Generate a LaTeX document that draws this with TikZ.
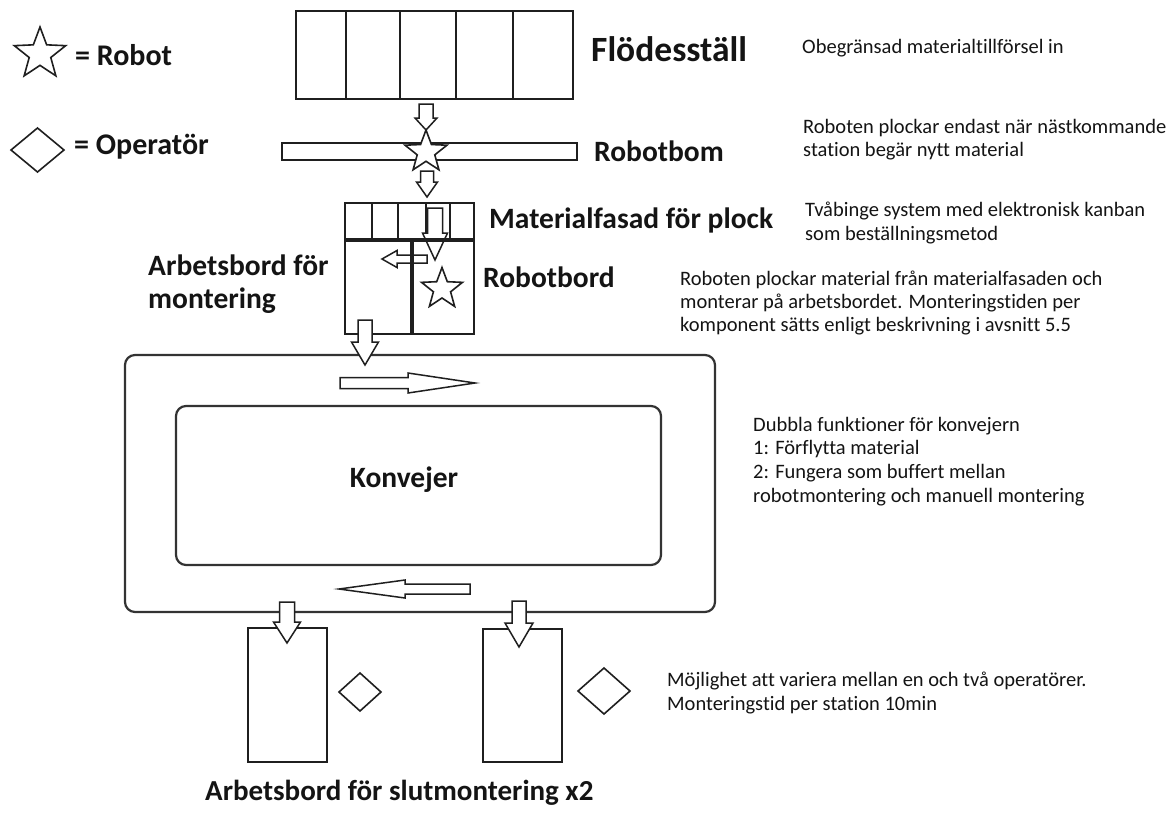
\documentclass[tikz,border=0pt]{standalone}
\usepackage{fontspec}
\setmainfont{Carlito}[Ligatures=CommonOff]
\newcommand\dnarrow[6]{% cx, top, headbase, tip, shaft width, head width
  \draw[blk] ({#1-#5/2},#2) -- ({#1+#5/2},#2) -- ({#1+#5/2},#3) -- ({#1+#6/2},#3) -- (#1,#4) -- ({#1-#6/2},#3) -- ({#1-#5/2},#3) -- cycle;}
\newcommand\hzarrow[6]{% cy, tail, headbase, tip, shaft height, head height
  \draw[blk] (#2,{#1-#5/2}) -- (#3,{#1-#5/2}) -- (#3,{#1-#6/2}) -- (#4,#1) -- (#3,{#1+#6/2}) -- (#3,{#1+#5/2}) -- (#2,{#1+#5/2}) -- cycle;}
\newcommand\robotstar[3]{% cx, cy, R
  \draw[sym, shift={(#1,#2)}] (-90:#3) -- (-54:{0.42*#3}) -- (-18:#3) -- (18:{0.42*#3}) -- (54:#3) -- (90:{0.42*#3}) -- (126:#3) -- (162:{0.42*#3}) -- (198:#3) -- (234:{0.42*#3}) -- cycle;}
\newcommand\opdiamond[4]{% cx, cy, half width, half height
  \draw[sym] ({#1-#3},#2) -- (#1,{#2-#4}) -- ({#1+#3},#2) -- (#1,{#2+#4}) -- cycle;}
\begin{document}
\begin{tikzpicture}[x=1pt,y=-1pt,
  ln/.style={draw=black!88, line width=1.8pt},
  thick line/.style={draw=black!88, line width=3.2pt},
  conv/.style={draw=black!80, line width=2.2pt, rounded corners=10pt},
  blk/.style={draw=black!88, line width=1.5pt, fill=white, line join=miter},
  sym/.style={draw=black!88, line width=1.6pt, fill=white, line join=miter},
  lbl/.style={font=\fontsize{29.5}{34}\selectfont\bfseries, anchor=base west, inner sep=0pt, text=black!92},
  note/.style={font=\fontsize{20.5}{24}\selectfont, anchor=base west, inner sep=0pt, text=black!92},
]
\useasboundingbox (0,0) rectangle (1170,812);
\fill[white] (0,0) rectangle (1170,812);

% legend
\robotstar{40}{54}{27}
\node[lbl, font=\fontsize{30}{34}\selectfont\bfseries] (legrobot) at (75,65) {= Robot};
\opdiamond{37.5}{150}{26.5}{22}
\node[lbl, font=\fontsize{30}{34}\selectfont\bfseries] (legop) at (74,154) {= Operatör};

% Flödesställ rack
\draw[ln] (296,11) rectangle (573,99);
\foreach \x in {346,400,456,513} \draw[ln] (\x,11) -- (\x,99);
\node[lbl, font=\fontsize{35.5}{40}\selectfont\bfseries] (flode) at (591,61) {Flödesställ};

% Robotbom
\draw[ln] (282,143) rectangle (577,160);
\node[lbl] (bom) at (594,161) {Robotbom};

% Materialfasad
\draw[ln] (345,203) rectangle (474,240);
\foreach \x in {372,398,426,450} \draw[ln] (\x,203) -- (\x,240);
\draw[ln] (345,240) rectangle (474,334);
\node[lbl] (fasad) at (489,228) {Materialfasad för plock};
\node[lbl] (arb1) at (148,275) {Arbetsbord för};
\node[lbl] (arb2) at (148,308) {montering};
\node[lbl] (robbord) at (483,287) {Robotbord};

% arrows top
\dnarrow{426}{104}{118}{130}{14}{22}
\robotstar{426}{152}{22}
\dnarrow{427}{171}{182}{197}{13}{21}
\dnarrow{435}{208}{233}{260}{15}{25}
\hzarrow{259}{427}{397}{382}{8}{17}
\draw[thick line] (345,240) -- (474,240);
\draw[thick line] (412,240) -- (412,334);
\robotstar{442}{289}{21.5}

% Konvejer
\draw[conv] (125,355) rectangle (715,612);
\draw[conv] (176,406) rectangle (661,565);
\node[lbl, anchor=base] (konv) at (404,487) {Konvejer};
\dnarrow{365}{320}{342}{365}{14}{27}
\hzarrow{383}{340}{408}{475}{11}{20}
\hzarrow{589}{470}{405}{339}{10}{18}

% final tables
\draw[ln] (248,628) rectangle (327,762);
\draw[ln] (483,629) rectangle (562,762);
\dnarrow{287}{602}{622}{643}{15}{27}
\dnarrow{519}{601}{623}{647}{14}{28}
\opdiamond{360}{692}{21}{19}
\opdiamond{604}{691}{26}{23}
\node[lbl, font=\fontsize{29}{34}\selectfont\bfseries] (slut) at (205,800) {Arbetsbord för slutmontering x2};

% notes
\node[note] (n1) at (802,53) {Obegränsad materialtillförsel in};
\node[note] (n2a) at (803,133) {Roboten plockar endast när nästkommande};
\node[note] (n2b) at (803,156) {station begär nytt material};
\node[note] (n3a) at (805,216) {Tvåbinge system med elektronisk kanban};
\node[note] (n3b) at (805,240) {som beställningsmetod};
\node[note] (n4a) at (680,285) {Roboten plockar material från materialfasaden och};
\node[note] (n4b) at (680,308) {monterar på arbetsbordet. Monteringstiden per};
\node[note] (n4c) at (680,331) {komponent sätts enligt beskrivning i avsnitt 5.5};
\node[note] (n5a) at (753,431) {Dubbla funktioner för konvejern};
\node[note] (n5b) at (753,454) {1: Förflytta material};
\node[note] (n5c) at (753,478) {2: Fungera som buffert mellan};
\node[note] (n5d) at (753,502) {robotmontering och manuell montering};
\node[note] (n6a) at (667,686) {Möjlighet att variera mellan en och två operatörer.};
\node[note] (n6b) at (667,710) {Monteringstid per station 10min};
\end{tikzpicture}
\end{document}
